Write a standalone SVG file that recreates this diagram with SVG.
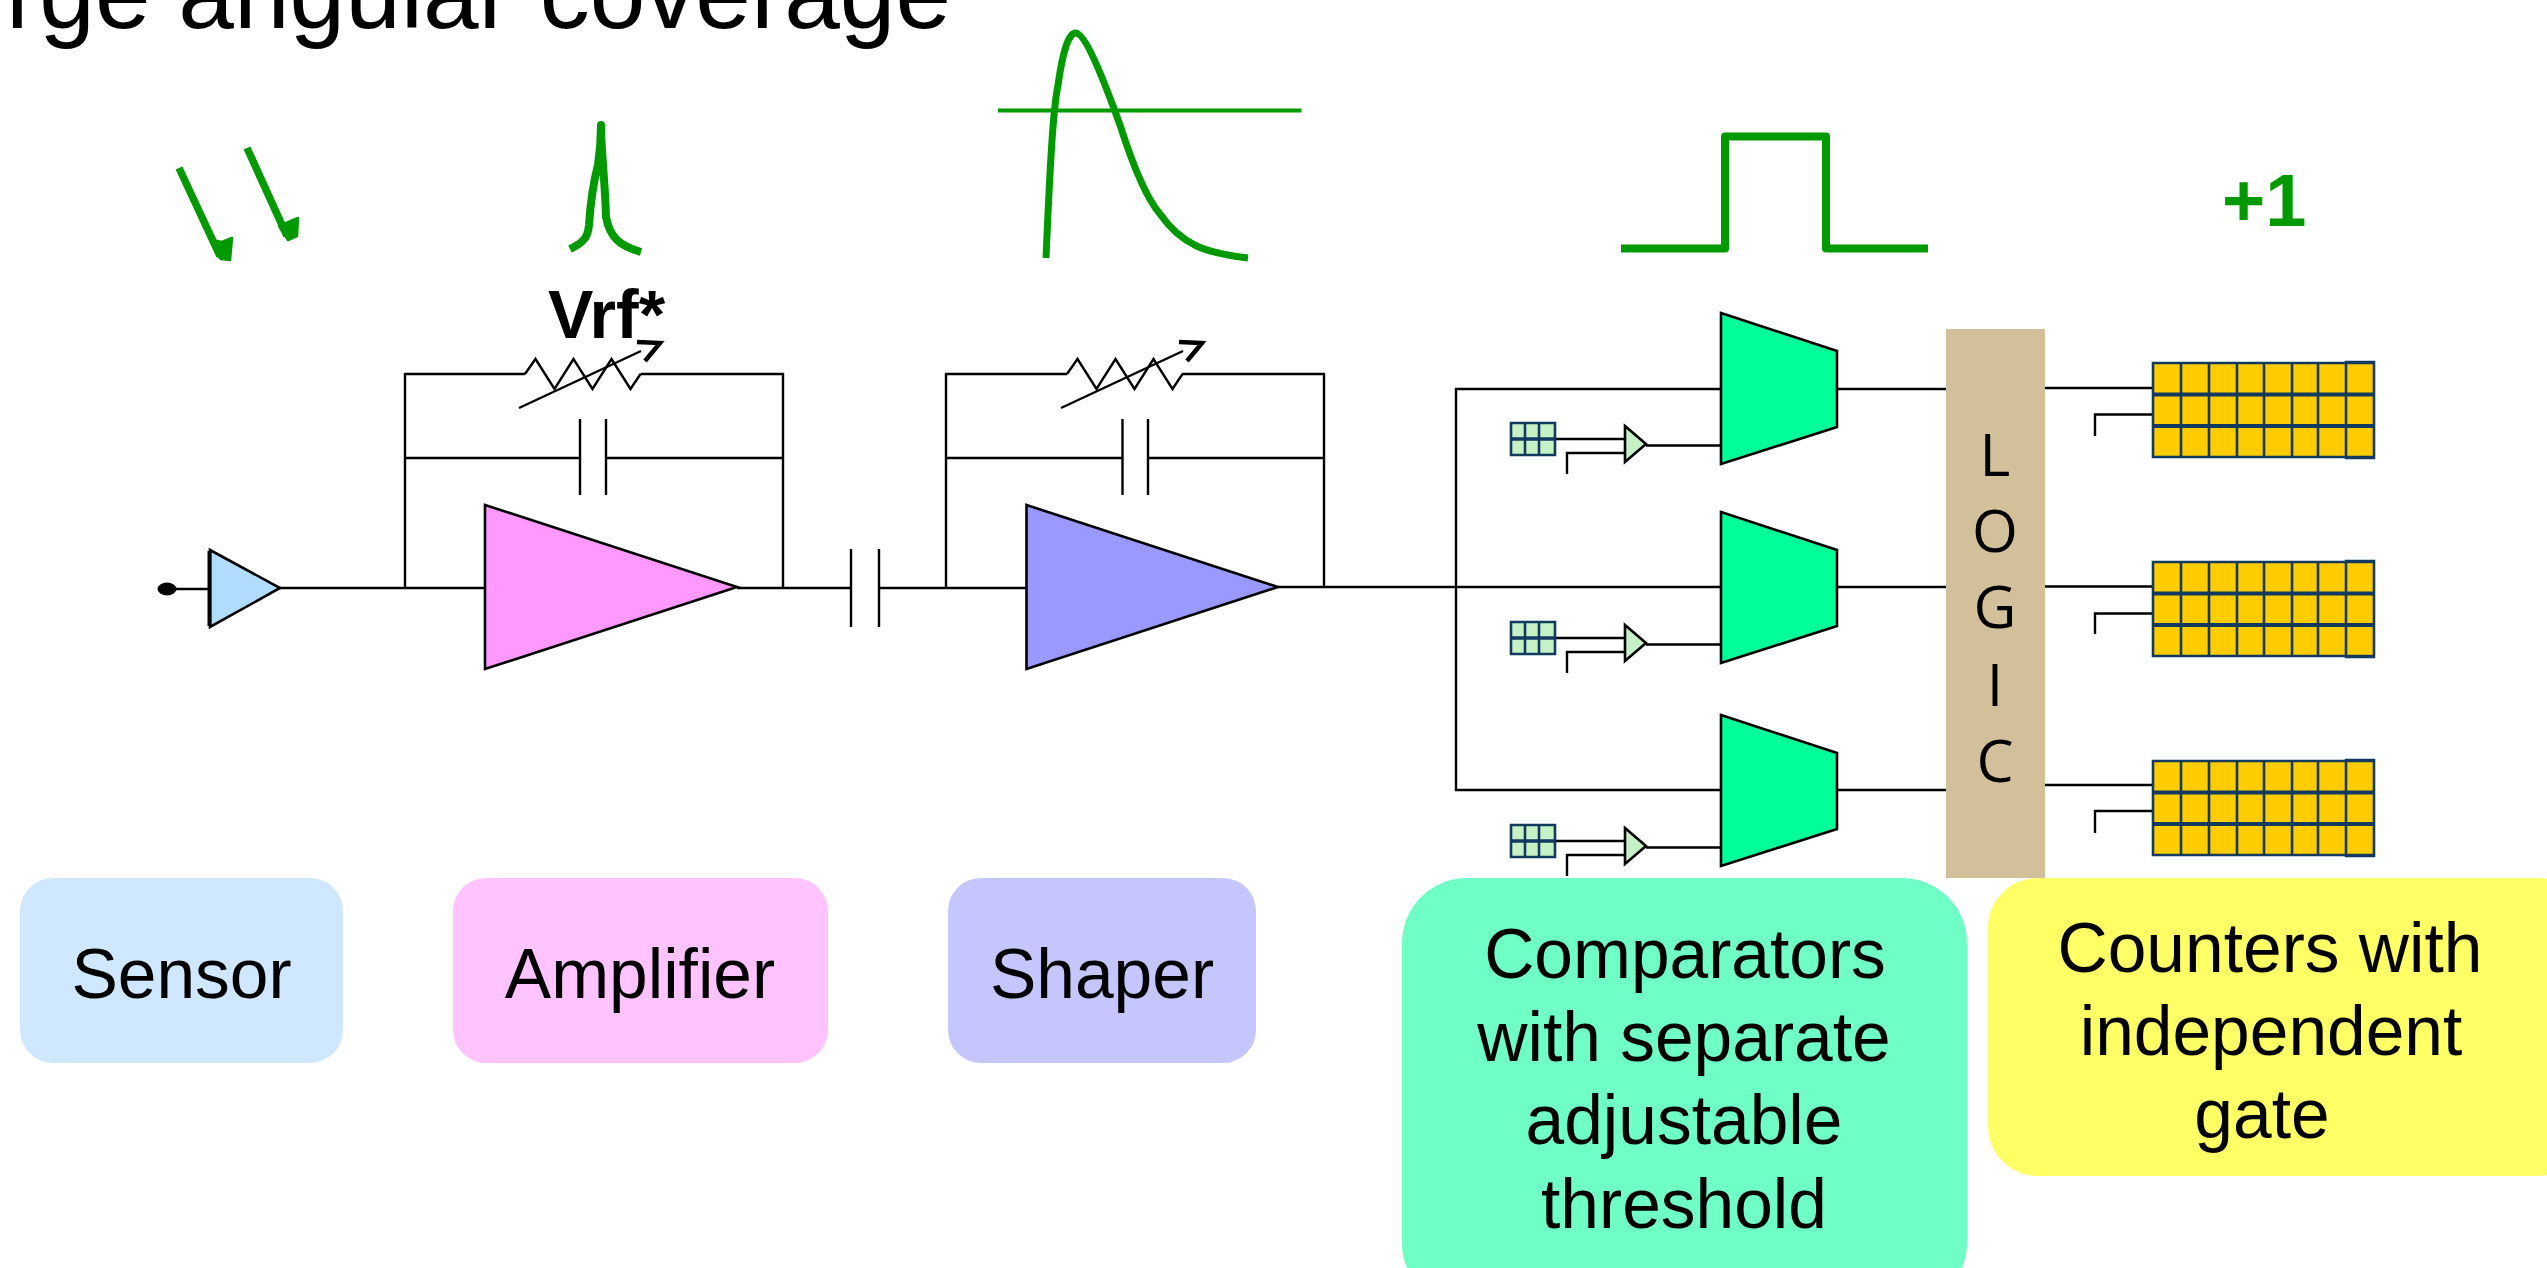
<svg xmlns="http://www.w3.org/2000/svg" width="2547" height="1268" viewBox="0 0 2547 1268">
<style>
text{font-family:"Liberation Sans",Arial,sans-serif;fill:#000}
.w{fill:none;stroke:#000;stroke-width:2.4;stroke-linejoin:miter}
.s{stroke:#000;stroke-width:2.6;stroke-linejoin:miter}
.g{fill:none;stroke:#009900;stroke-linecap:butt;stroke-linejoin:round}
.lab{font-size:69.500px;text-anchor:middle}
.logic{font-family:"Open Sans",sans-serif;font-size:59px;text-anchor:middle}
.grid{stroke:#123a5e;stroke-width:2.6;fill:none}
</style>
<defs>
<g id="res">
<path class="w" d="M525 374L535.500 359L554.500 389L573.500 359L592.500 389L611.500 359L630.500 389L640.500 374"/>
<path class="w" d="M519 408L641 351"/>
<path d="M637 342L660 343L645 361" fill="none" stroke="#000" stroke-width="4.500"/>
</g>
<g id="comp">
<path class="s" fill="#00ff99" d="M1721 313L1837 351V427L1721 464Z"/>
</g>
<g id="dac">
<rect x="1511" y="423" width="44" height="32" fill="#c6f0c6"/>
<path class="grid" d="M1511 423H1555V455H1511ZM1525 423V455M1539 423V455"/>
<path d="M1511 439H1555" stroke="#123a5e" stroke-width="3.500"/>
<path class="s" fill="#c6f0c6" d="M1625 426L1646 444L1625 462Z"/>
</g>
<g id="cnt">
<rect x="2153" y="363" width="221" height="94" fill="#ffcc00"/>
<path class="grid" d="M2153 363H2374V457H2153ZM2181 363V457M2209 363V457M2237 363V457M2264 363V457M2292 363V457M2318 363V457M2346 362V458H2374V362Z"/>
<path d="M2153 394.500H2374M2153 426H2374" stroke="#123a5e" stroke-width="3.800"/>
</g>
</defs>

<text x="6" y="28" font-size="100" id="title">rge angular coverage</text>

<g id="connectors">
<path class="w" d="M167 589H210M280 588H485M405 588V374H525M640.500 374H783V588M405 458H580M606 458H783M737 588H851M879 588H1026"/>
<path class="w" d="M946 588V374H1067M1182 374H1324V588M946 458H1122.500M1148 458H1324"/>
<path class="w" d="M1278 587H1721M1456 587V389H1721M1456 587V790H1721"/>
<path class="w" d="M1837 389H1946M1837 587H1946M1837 790H1946"/>
<path class="w" d="M2045 388H2153M2045 586.500H2153M2045 785H2153"/>
<path class="w" d="M2095 436V414.500H2153M2095 634V613.500H2153M2095 833V811H2153"/>
<path class="w" d="M1555 439H1625M1567 474V453H1625M1646 445.500H1721"/>
<path class="w" d="M1555 638H1625M1567 673V652H1625M1646 644.500H1721"/>
<path class="w" d="M1555 841H1625M1567 876V855H1625M1646 847.500H1721"/>
</g>

<g id="sensor-front">
<ellipse cx="167" cy="589" rx="9.500" ry="6.500" fill="#000"/>
<path class="s" fill="#b0dcff" d="M210 550L280 588L210 627Z"/>
<path d="M209.500 551V626" stroke="#000" stroke-width="4"/>
</g>
<g id="amplifier-stage">
<path class="s" fill="#ff99ff" d="M485 505L737 587L485 669Z"/>
<use href="#res"/>
<path class="w" d="M580 419V495M606 419V495"/>
<text x="548" y="338" font-size="68" font-weight="700">Vrf*</text>
</g>
<g id="coupling-cap"><path class="w" d="M851 549V627M879 549V627"/></g>
<g id="shaper-stage">
<path class="s" fill="#9999ff" d="M1026.500 505L1278 587L1026.500 669Z"/>
<use href="#res" transform="translate(542 0)"/>
<path class="w" d="M1122.500 419V495M1148 419V495"/>
</g>

<g id="comparator-1"><use href="#comp"/><use href="#dac"/></g>
<g id="comparator-2"><use href="#comp" transform="translate(0 199)"/><use href="#dac" transform="translate(0 199)"/></g>
<g id="comparator-3"><use href="#comp" transform="translate(0 402)"/><use href="#dac" transform="translate(0 402)"/></g>

<g id="logic">
<rect x="1946" y="329" width="99" height="549" fill="#d1c09a"/>
<text class="logic" x="1995" y="476">L</text>
<text class="logic" x="1995" y="552">O</text>
<text class="logic" x="1995" y="628">G</text>
<text class="logic" x="1995" y="706">I</text>
<text class="logic" x="1995" y="782">C</text>
</g>

<g id="counter-1"><use href="#cnt"/></g>
<g id="counter-2"><use href="#cnt" transform="translate(0 199)"/></g>
<g id="counter-3"><use href="#cnt" transform="translate(0 398)"/></g>

<g id="signals">
<path class="g" stroke-width="7.500" stroke-linecap="round" d="M179 168L220 256M247 148L287 236"/>
<path d="M212 240L222 242L232 238L230 260L221 259L218 256Z" fill="#009900" stroke="#009900" stroke-width="2.500" stroke-linejoin="round"/>
<path d="M279 226L298 218L297 236L288 240Z" fill="#009900" stroke="#009900" stroke-width="2.500" stroke-linejoin="round"/>
<path class="g" stroke-width="8" d="M570 249C585 242 588 236 589 225C591 195 594 180 598 165C601 145 601 137 601 125C601 150 605 180 606 217C610 238 620 246 641 252"/>
<path d="M998 110.500H1301.500" stroke="#009900" stroke-width="4"/>
<path class="g" stroke-width="7" d="M1046 258C1050 165 1053 110 1058 85C1063 50 1069 32 1076 33C1085 34 1102 75 1120 125C1135 172 1148 200 1160 214C1182 245 1205 253 1248 258"/>
<path class="g" stroke-width="8" stroke-linejoin="miter" d="M1621 248.500H1725V136.500H1826V248.500H1928"/>
<text x="2222" y="226" font-size="74" font-weight="700" style="fill:#009900">+1</text>
</g>

<g id="label-sensor"><rect x="20" y="878" width="323" height="185" rx="33" fill="#d0e8ff"/><text class="lab" x="181.500" y="998">Sensor</text></g>
<g id="label-amplifier"><rect x="453" y="878" width="375" height="185" rx="33" fill="#ffc4ff"/><text class="lab" x="640" y="998">Amplifier</text></g>
<g id="label-shaper"><rect x="948" y="878" width="308" height="185" rx="33" fill="#c6c6ff"/><text class="lab" x="1102" y="998">Shaper</text></g>
<g id="label-comparators"><rect x="1402" y="878" width="565" height="430" rx="65" fill="#6fffc6"/>
<text class="lab" x="1685" y="978">Comparators</text><text class="lab" x="1684" y="1061">with separate</text><text class="lab" x="1684" y="1144">adjustable</text><text class="lab" x="1684" y="1228">threshold</text></g>
<g id="label-counters"><rect x="1988" y="878" width="600" height="298" rx="50" fill="#ffff66"/>
<text class="lab" x="2270" y="972">Counters with</text><text class="lab" x="2271" y="1055">independent</text><text class="lab" x="2262" y="1138">gate</text></g>
</svg>
